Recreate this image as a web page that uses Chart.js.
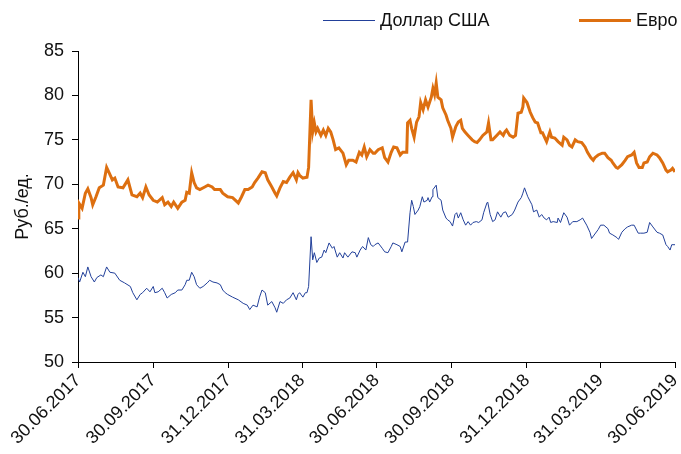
<!DOCTYPE html>
<html>
<head>
<meta charset="utf-8">
<script src="https://cdn.jsdelivr.net/npm/chart.js@4.4.0/dist/chart.umd.min.js"></script>
<style>
  html, body { margin: 0; padding: 0; background: #fff; }
  #wrap { width: 681px; height: 454px; }
</style>
</head>
<body>
<div id="wrap"><canvas id="fxChart" width="681" height="454"></canvas></div>
<script>
// days counted from 30.06.2017
var tickDays = [0, 92, 184, 274, 365, 457, 549, 639, 730];
var tickLabels = ["30.06.2017", "30.09.2017", "31.12.2017", "31.03.2018", "30.06.2018",
  "30.09.2018", "31.12.2018", "31.03.2019", "30.06.2019"];

var usdDays = [0,2,6,9,12,16,20,23,28,31,35,39,45,51,57,64,67,72,76,79,84,88,92,94,98,103,106,109,114,119,122,127,131,133,136,139,142,145,149,153,158,161,165,170,174,177,180,183,189,196,202,207,210,214,219,222,225,229,232,237,241,243,247,251,255,259,263,267,269,271,275,278,280,282,285,287,289,292,295,298,301,303,307,311,313,317,320,324,326,330,335,339,341,345,348,352,355,358,361,363,367,372,375,379,383,385,390,394,396,400,403,406,408,410,412,416,418,421,423,427,428,430,433,434,438,440,444,446,450,452,455,458,461,463,465,468,471,474,477,480,483,487,490,494,496,500,501,504,507,510,513,517,520,523,526,531,534,538,542,544,546,550,555,557,561,564,567,570,573,576,578,581,586,587,590,594,598,601,605,610,614,617,622,626,628,632,636,639,643,648,650,654,659,661,665,669,672,677,680,685,688,692,696,699,703,708,711,715,719,721,724,726,730];
var usdRate = [59.5,59.0,60.1,59.6,60.7,59.6,59.0,59.5,59.8,59.6,60.7,60.1,60.0,59.2,58.9,58.5,57.8,57.0,57.6,57.8,58.3,57.9,58.5,57.8,57.9,58.3,57.8,57.2,57.6,57.8,58.1,58.1,58.7,59.2,59.2,60.1,59.6,58.7,58.3,58.5,58.9,59.2,59.0,58.9,58.7,58.1,57.8,57.6,57.3,57.0,56.6,56.4,55.9,56.4,56.2,57.3,58.1,57.8,56.4,56.8,56.1,55.6,56.8,56.6,57.0,57.2,57.8,57.0,57.6,57.8,57.3,57.8,57.8,58.5,64.1,61.5,62.3,61.2,61.7,61.8,62.6,62.3,63.4,62.8,63.0,61.8,62.3,61.7,62.3,61.8,62.4,62.3,61.8,62.6,63.0,62.6,64.0,63.2,63.0,63.2,63.4,62.8,62.4,62.3,63.0,63.4,63.2,63.0,62.4,63.5,63.5,66.8,68.2,67.5,66.6,67.1,67.5,68.6,68.0,68.2,68.5,68.0,68.6,69.4,69.9,68.5,68.2,67.1,66.2,66.0,65.8,65.3,66.6,66.8,66.2,66.8,66.0,65.4,65.8,65.4,65.7,65.8,65.7,66.0,66.8,67.9,68.0,66.6,65.8,66.0,66.9,66.3,66.8,66.9,66.3,66.6,67.1,68.0,68.5,69.0,69.6,68.6,67.7,66.9,67.1,66.3,66.6,66.2,66.0,66.3,65.7,65.8,65.7,66.2,65.7,66.8,66.3,65.4,65.8,65.8,66.0,66.2,65.4,64.6,63.9,64.4,64.9,65.4,65.4,65.0,64.5,64.3,64.0,63.8,64.6,65.0,65.2,65.4,65.4,64.5,64.5,64.5,64.6,65.7,65.2,64.6,64.5,64.3,63.2,63.0,62.6,63.2,63.2];

var eurDays = [0,1,5,9,12,16,18,22,26,31,35,38,42,45,49,55,61,66,72,76,79,83,87,92,97,103,106,110,114,117,122,127,131,133,136,139,142,145,149,155,159,164,167,174,177,180,183,189,196,200,204,208,213,216,220,225,229,232,237,241,243,247,251,255,259,263,267,269,271,275,280,282,285,287,289,291,293,297,300,303,306,309,312,315,319,324,328,331,336,340,344,347,350,353,357,361,363,367,372,375,379,383,386,390,394,397,402,403,406,408,411,414,417,419,422,425,428,432,434,436,438,440,444,446,450,452,456,458,462,465,468,470,473,477,482,485,488,491,495,500,502,505,507,512,516,520,522,524,528,532,535,538,542,544,545,549,553,556,559,562,566,568,573,577,579,583,587,592,594,598,601,604,608,611,616,620,623,627,630,632,636,641,644,648,652,654,658,660,665,669,672,677,680,683,686,690,692,696,699,703,708,711,715,719,721,725,727,730];
var eurRate = [66.2,67.9,67.3,69.0,69.5,68.5,67.7,68.6,69.6,69.9,71.9,71.3,70.5,70.7,69.7,69.6,70.5,68.8,68.6,69.0,68.5,69.7,68.8,68.2,68.0,68.5,67.7,68.0,67.5,68.0,67.3,68.0,68.2,69.1,69.0,71.3,70.2,69.6,69.4,69.7,69.9,69.7,69.4,69.4,69.0,68.8,68.6,68.5,67.9,68.6,69.4,69.4,69.7,70.2,70.7,71.4,71.3,70.5,69.7,69.0,68.7,69.6,70.3,70.2,70.8,71.3,70.5,71.3,71.0,70.7,70.8,71.9,79.5,75.9,76.9,75.9,76.3,75.5,76.1,75.5,76.3,75.9,75.0,73.9,74.1,73.5,72.2,72.7,72.7,72.5,73.6,73.3,74.2,73.1,73.9,73.5,73.5,73.9,74.1,73.0,72.5,73.6,74.2,74.1,73.3,73.6,73.6,76.9,77.2,76.3,75.3,77.0,77.6,79.2,78.4,79.5,78.7,79.8,80.8,80.1,81.4,79.8,79.5,78.6,77.8,77.2,76.3,75.3,76.5,77.0,77.2,76.3,75.9,75.5,75.0,74.8,74.7,75.0,75.5,75.9,76.9,75.0,75.0,75.5,75.9,75.5,75.9,76.1,75.5,75.3,75.5,78.0,78.1,78.7,79.7,79.2,78.1,77.5,77.0,76.9,75.8,75.8,74.8,75.9,75.3,75.2,74.8,74.4,75.3,75.0,74.4,74.2,75.0,74.8,74.7,74.2,73.6,73.0,72.7,73.0,73.3,73.5,73.5,73.0,72.7,72.4,71.9,71.8,72.2,72.7,73.1,73.3,73.6,72.4,71.9,71.9,72.4,72.5,73.1,73.5,73.3,73.0,72.4,71.6,71.4,71.6,71.8,71.4];

function toPoints(days, vals) {
  return days.map(function (d, i) { return { x: d, y: vals[i] }; });
}

var fontFamily = "'Liberation Sans', Arial, sans-serif";

// legend drawn by hand, the two items sit far apart in the original
var fxLegend = {
  id: "fxLegend",
  afterDraw: function (chart) {
    var c = chart.ctx;
    var starts = [323, 579];
    c.save();
    c.font = "18px " + fontFamily;
    c.textBaseline = "middle";
    chart.data.datasets.forEach(function (ds, i) {
      var x = starts[i];
      c.strokeStyle = ds.borderColor;
      c.lineWidth = ds.borderWidth;
      c.beginPath();
      c.moveTo(x, 20.5);
      c.lineTo(x + 52, 20.5);
      c.stroke();
      c.fillStyle = "#111";
      c.fillText(ds.label, x + 57, 21);
    });
    c.restore();
  }
};

var ctx = document.getElementById("fxChart").getContext("2d");
var fxChart = new Chart(ctx, {
  type: "line",
  data: {
    datasets: [
      {
        label: "Доллар США",
        data: toPoints(usdDays, usdRate),
        borderColor: "#22409a",
        borderWidth: 1,
        pointRadius: 0,
        tension: 0,
      },
      {
        label: "Евро",
        data: toPoints(eurDays, eurRate),
        borderColor: "#dd6f10",
        borderWidth: 3,
        pointRadius: 0,
        tension: 0,
      },
    ],
  },
  options: {
    responsive: false,
    animation: false,
    layout: { padding: { top: 51, right: 6, left: 0, bottom: 0 } },
    plugins: {
      legend: { display: false },
      tooltip: { enabled: false },
    },
    scales: {
      x: {
        type: "linear",
        min: 0,
        max: 730,
        afterBuildTicks: function (s) {
          s.ticks = tickDays.map(function (d) { return { value: d }; });
        },
        afterFit: function (s) {
          s.height = 92;
          s.paddingLeft = 0;
          s.paddingRight = 0;
        },
        ticks: {
          autoSkip: false,
          maxRotation: 45,
          minRotation: 45,
          padding: 2,
          color: "#111",
          font: { family: fontFamily, size: 18 },
          callback: function (v) {
            var i = tickDays.indexOf(v);
            return i >= 0 ? tickLabels[i] : "";
          },
        },
        grid: { drawOnChartArea: false, drawTicks: true, tickLength: 6, color: "#000" },
        border: { display: true, color: "#000", width: 1 },
      },
      y: {
        min: 50,
        max: 85,
        afterFit: function (s) { s.width = 78; },
        ticks: {
          stepSize: 5,
          padding: 8,
          color: "#111",
          font: { family: fontFamily, size: 18 },
        },
        title: {
          display: true,
          text: "Руб./ед.",
          color: "#111",
          padding: { top: 12, bottom: 0 },
          font: { family: fontFamily, size: 18 },
        },
        grid: { drawOnChartArea: false, drawTicks: true, tickLength: 6, color: "#000" },
        border: { display: true, color: "#000", width: 1 },
      },
    },
  },
  plugins: [fxLegend],
});
</script>
</body>
</html>
